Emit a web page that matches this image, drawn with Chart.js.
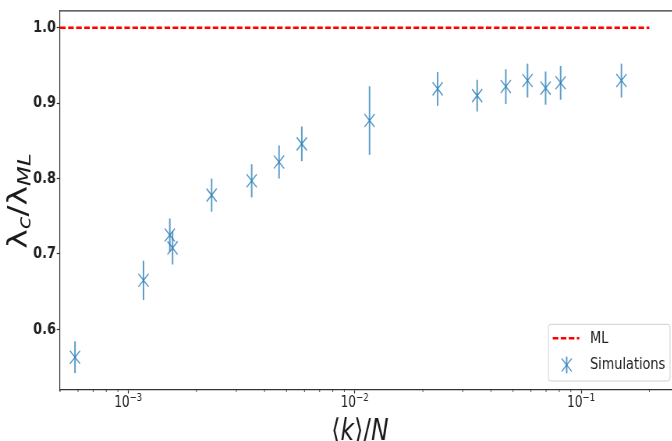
<!DOCTYPE html>
<html><head><meta charset="utf-8">
<script src="https://cdn.jsdelivr.net/npm/chart.js@4/dist/chart.umd.min.js"></script>
<style>
html,body{margin:0;padding:0;background:#fff;overflow:hidden;width:672px;height:441px}
#wrap{position:absolute;left:0;top:0;width:881px;height:441px;transform:scaleX(0.78);transform-origin:0 0}
canvas{display:block}
</style></head><body>
<div id="wrap"><canvas id="c" width="881" height="441"></canvas></div>
<script>
// ---- data ----
const kOverN   = [5.82e-4, 1.168e-3, 1.526e-3, 1.569e-3, 2.334e-3, 3.508e-3, 4.633e-3, 5.84e-3, 0.01163, 0.02324, 0.03473, 0.04648, 0.05797, 0.06966, 0.08115, 0.1506];
const ratio    = [0.563, 0.665, 0.725, 0.708, 0.778, 0.797, 0.822, 0.846, 0.877, 0.919, 0.910, 0.922, 0.930, 0.920, 0.927, 0.930];
const ratioErr = [0.021, 0.026, 0.022, 0.022, 0.022, 0.022, 0.022, 0.023, 0.0455, 0.0225, 0.021, 0.023, 0.0224, 0.022, 0.0224, 0.0224];
const mlX = [5e-4, 0.2];
const mlY = [1.0, 1.0];
const yTicks = [0.6, 0.7, 0.8, 0.9, 1.0];
const xMajorTicks = [1e-3, 1e-2, 1e-1];
const xTickBase = ['10', '10', '10'];
const xTickExp = ['\u22123', '\u22122', '\u22121'];
const xMinorTicks = [5e-4,6e-4,7e-4,8e-4,9e-4,2e-3,3e-3,4e-3,5e-3,6e-3,7e-3,8e-3,9e-3,2e-2,3e-2,4e-2,5e-2,6e-2,7e-2,8e-2,9e-2,2e-1];
const legendLabels = ['ML', 'Simulations'];

const blue = 'rgba(31,119,180,0.72)';
const red = '#ff0000';
const dash = [7.2, 3.1];
const FONT = 'DejaVu Sans';

function drawRuns(ctx, runs, cx, baseY) {
  let total = 0;
  runs.forEach(r => { ctx.font = r.font; r.w = ctx.measureText(r.t).width; total += r.w; });
  let x = cx - total / 2;
  runs.forEach(r => { ctx.font = r.font; ctx.fillText(r.t, x, baseY + (r.dy || 0)); x += r.w; });
}

const decor = {
  id: 'decor',
  beforeDatasetsDraw(chart) {
    const {ctx, scales: {x, y}} = chart;
    ctx.save();
    ctx.strokeStyle = blue; ctx.lineWidth = 2;
    for (let i = 0; i < kOverN.length; i++) {
      const px = x.getPixelForValue(kOverN[i]);
      ctx.beginPath();
      ctx.moveTo(px, y.getPixelForValue(ratio[i] - ratioErr[i]));
      ctx.lineTo(px, y.getPixelForValue(ratio[i] + ratioErr[i]));
      ctx.stroke();
    }
    ctx.restore();
  },
  afterDraw(chart) {
    const {ctx, chartArea: a, scales: {x}} = chart;
    ctx.save();
    // top & right spines
    ctx.strokeStyle = '#333'; ctx.lineWidth = 1.2;
    ctx.beginPath(); ctx.moveTo(a.left, a.top); ctx.lineTo(a.right, a.top); ctx.lineTo(a.right, a.bottom); ctx.stroke();
    // minor ticks
    ctx.lineWidth = 0.9;
    xMinorTicks.forEach(v => {
      const px = x.getPixelForValue(v);
      ctx.beginPath(); ctx.moveTo(px, a.bottom); ctx.lineTo(px, a.bottom + 2); ctx.stroke();
    });
    // x tick labels with superscript exponents
    ctx.fillStyle = '#222'; ctx.textBaseline = 'alphabetic'; ctx.textAlign = 'left';
    xMajorTicks.forEach((v, i) => {
      const px = x.getPixelForValue(v);
      drawRuns(ctx, [
        {t: xTickBase[i], font: `15.5px "${FONT}"`},
        {t: xTickExp[i], font: `11px "${FONT}"`, dy: -6.3}
      ], px, 407.3);
    });
    // axis titles
    ctx.fillStyle = '#1a1a1a';
    drawRuns(ctx, [
      {t: '\u27E8', font: `30px "${FONT}"`},
      {t: 'k', font: `italic 30px "${FONT}"`},
      {t: '\u27E9/', font: `30px "${FONT}"`},
      {t: 'N', font: `italic 30px "${FONT}"`}
    ], 461.5, 440);
    ctx.save();
    ctx.translate(33.7, 201); ctx.rotate(-Math.PI / 2);
    drawRuns(ctx, [
      {t: '\u03BB', font: `33px "${FONT}"`},
      {t: 'c', font: `italic 23px "${FONT}"`, dy: 5},
      {t: '/\u03BB', font: `33px "${FONT}"`},
      {t: 'ML', font: `italic 23px "${FONT}"`, dy: 5}
    ], 0, 0);
    ctx.restore();
    // legend
    const lx = 703, ly = 324.3, lw = 156, lh = 56.7, r = 3;
    ctx.beginPath();
    ctx.moveTo(lx + r, ly); ctx.lineTo(lx + lw - r, ly); ctx.quadraticCurveTo(lx + lw, ly, lx + lw, ly + r);
    ctx.lineTo(lx + lw, ly + lh - r); ctx.quadraticCurveTo(lx + lw, ly + lh, lx + lw - r, ly + lh);
    ctx.lineTo(lx + r, ly + lh); ctx.quadraticCurveTo(lx, ly + lh, lx, ly + lh - r);
    ctx.lineTo(lx, ly + r); ctx.quadraticCurveTo(lx, ly, lx + r, ly);
    ctx.closePath();
    ctx.fillStyle = 'rgba(255,255,255,0.85)'; ctx.fill();
    ctx.strokeStyle = '#d0d0d0'; ctx.lineWidth = 1; ctx.stroke();
    ctx.strokeStyle = red; ctx.lineWidth = 2.5; ctx.setLineDash(dash);
    ctx.beginPath(); ctx.moveTo(708.6, 338.3); ctx.lineTo(742.7, 338.3); ctx.stroke();
    ctx.setLineDash([]);
    ctx.strokeStyle = blue; ctx.lineWidth = 2;
    ctx.beginPath(); ctx.moveTo(726.5, 356.7); ctx.lineTo(726.5, 373.3); ctx.stroke();
    ctx.lineWidth = 1.5;
    ctx.beginPath(); ctx.moveTo(720, 358.5); ctx.lineTo(733, 371.5); ctx.moveTo(733, 358.5); ctx.lineTo(720, 371.5); ctx.stroke();
    ctx.fillStyle = '#222'; ctx.font = `16.5px "${FONT}"`; ctx.textBaseline = 'middle'; ctx.textAlign = 'left';
    ctx.fillText(legendLabels[0], 756.4, 339);
    ctx.fillText(legendLabels[1], 756.4, 365);
    ctx.restore();
  }
};

new Chart(document.getElementById('c'), {
  type: 'scatter',
  data: {
    datasets: [
      {
        label: legendLabels[0], type: 'line',
        data: mlX.map((v, i) => ({x: v, y: mlY[i]})),
        borderColor: red, borderWidth: 2.5, borderDash: dash, pointRadius: 0, fill: false
      },
      {
        label: legendLabels[1],
        data: kOverN.map((v, i) => ({x: v, y: ratio[i]})),
        pointStyle: 'crossRot', pointRadius: 9.2, borderColor: blue, backgroundColor: blue, borderWidth: 1.5, showLine: false
      }
    ]
  },
  options: {
    responsive: false, animation: false, events: [],
    layout: {padding: {left: 0, right: 4, top: 8.5, bottom: 0}},
    plugins: {legend: {display: false}, tooltip: {enabled: false}},
    scales: {
      x: {
        type: 'logarithmic', min: 5e-4, max: 0.27,
        afterBuildTicks(s) { s.ticks = xMajorTicks.map(v => ({value: v, major: true})); },
        afterFit(s) { s.height = 51; },
        ticks: {autoSkip: false, maxRotation: 0, padding: 1, color: '#222', font: {family: FONT, size: 15},
                callback: () => ''},
        grid: {drawOnChartArea: false, tickLength: 3.5, tickColor: '#333', tickWidth: 1.2},
        border: {color: '#333', width: 1.2}
      },
      y: {
        min: 0.5195, max: 1.0224,
        afterBuildTicks(s) { s.ticks = yTicks.map(v => ({value: v})); },
        afterFit(s) { s.width = 77; },
        ticks: {padding: 1, color: '#222', font: {family: FONT, size: 16.5, weight: 'bold'},
                callback: v => v.toFixed(1)},
        grid: {drawOnChartArea: false, tickLength: 4.3, tickColor: '#333', tickWidth: 1.2},
        border: {color: '#333', width: 1.2}
      }
    }
  },
  plugins: [decor]
});
</script></body></html>
